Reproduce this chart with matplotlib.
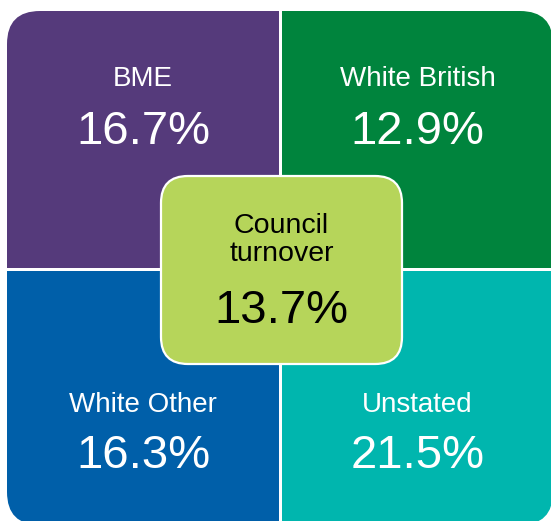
import matplotlib
matplotlib.use("Agg")
import matplotlib.pyplot as plt
from matplotlib.patches import FancyBboxPatch, Rectangle

plt.rcParams['font.family'] = ['Liberation Sans', 'DejaVu Sans']

groups = ['BME', 'White British', 'White Other', 'Unstated']
rates = [16.7, 12.9, 16.3, 21.5]
colors = ['#553a7b', '#00843d', '#005fa9', '#00b6ae']
overall_label = 'Council\nturnover'
overall_rate = 13.7
overall_color = '#b6d55a'

W, H = 551, 521
fig = plt.figure(figsize=(W / 100, H / 100), dpi=100)
ax = fig.add_axes([0, 0, 1, 1])
ax.set_xlim(0, W)
ax.set_ylim(H, 0)
ax.axis('off')

# outer extents
L, T, R, B = 7, 11, 553, 525
rad = 33
gx0, gx1 = 279, 282   # vertical white gap
gy0, gy1 = 268, 271   # horizontal white gap

quads = [
    (L, T, gx0, gy0),
    (gx1, T, R, gy0),
    (L, gy1, gx0, B),
    (gx1, gy1, R, B),
]

for (x0, y0, x1, y1), col in zip(quads, colors):
    patch = FancyBboxPatch((L, T), R - L, B - T,
                           boxstyle=f"round,pad=0,rounding_size={rad}",
                           facecolor=col, edgecolor='none')
    ax.add_patch(patch)
    clip = Rectangle((x0, y0), x1 - x0, y1 - y0, transform=ax.transData)
    patch.set_clip_path(clip)

label_base = [86, 86, 412, 412]
value_base = [144, 144, 468, 468]
for i, ((x0, y0, x1, y1), g, r) in enumerate(zip(quads, groups, rates)):
    cx = (x0 + x1) / 2
    ax.text(cx, label_base[i], g, color='white', fontsize=20,
            ha='center', va='baseline')
    ax.text(cx, value_base[i], f"{r:.1f}%", color='white', fontsize=34,
            ha='center', va='baseline')

# center box
bx0, by0, bx1, by1 = 161, 176, 402, 364
center = FancyBboxPatch((bx0, by0), bx1 - bx0, by1 - by0,
                        boxstyle="round,pad=0,rounding_size=27",
                        facecolor=overall_color, edgecolor='white', linewidth=1.6)
ax.add_patch(center)
ccx = (bx0 + bx1) / 2
lines = overall_label.split('\n')
ax.text(ccx, 233, lines[0], color='black', fontsize=20.5, ha='center', va='baseline')
ax.text(ccx, 261, lines[1], color='black', fontsize=20.5, ha='center', va='baseline')
ax.text(ccx, 323, f"{overall_rate:.1f}%", color='black', fontsize=34,
        ha='center', va='baseline')

fig.savefig('out.png', dpi=100, facecolor='white')
